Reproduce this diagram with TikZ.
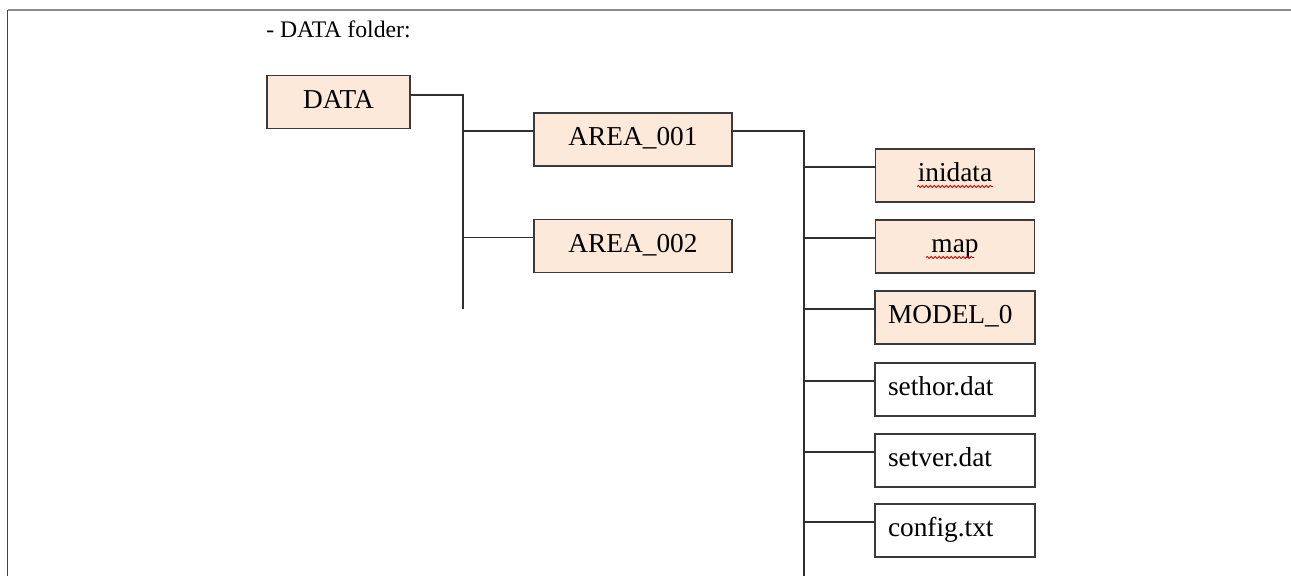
\documentclass[tikz,border=0pt]{standalone}
\usepackage{fontspec}
\setmainfont{Liberation Serif}
\usetikzlibrary{calc,decorations.pathmorphing}
\definecolor{peach}{HTML}{FDE9D9}
\definecolor{boxline}{HTML}{3A3A3A}
\definecolor{connline}{HTML}{303030}
\definecolor{frameleft}{HTML}{444444}
\definecolor{frametop}{HTML}{8A8A8A}
\begin{document}
\begin{tikzpicture}[x=0.75pt,y=-0.75pt,
  basebox/.style={draw=boxline, line width=1.1pt, rectangle, inner ysep=0pt,
    minimum height=39.75pt, text height=14pt, text depth=5pt,
    font=\fontsize{20.5}{24}\selectfont},
  folder/.style={basebox, fill=peach},
  filebox/.style={basebox, fill=white},
  centred/.style={align=center, text width=105pt, inner xsep=7pt},
  leftset/.style={align=left, text width=100.5pt, inner xsep=9.75pt},
  conn/.style={draw=connline, line width=0.8pt},
  squig/.style={draw=red!80!black, line width=0.6pt, decorate,
    decoration={snake, segment length=3pt, amplitude=0.8pt}}]
\useasboundingbox (0,0) rectangle (1291,576);
% frame
\draw[frametop, line width=1.5pt] (7.5,10) -- (1291,10);
\draw[frameleft, line width=1.3pt] (7.5,10) -- (7.5,576);
% title
\node[anchor=base west, inner sep=0pt, font=\fontsize{17.8}{21}\selectfont] (title) at (266,37) {- DATA folder:};
% level 0
\node[folder, minimum width=107.25pt, inner xsep=0pt] (data) at (338.5,102) {DATA};
% level 1
\node[folder, minimum width=148.5pt, inner xsep=0pt] (a1) at (633,139.5) {AREA\_001};
\node[folder, minimum width=148.5pt, inner xsep=0pt] (a2) at (633,246) {AREA\_002};
% level 2
\node[folder, centred] (ini) at (955,175.5) {inidata};
\node[folder, centred] (map) at (955,246.5) {map};
\node[folder, leftset] (model) at (955,317.5) {MODEL\_0};
\node[filebox, leftset] (sethor) at (955,389.5) {sethor.dat};
\node[filebox, leftset] (setver) at (955,460.5) {setver.dat};
\node[filebox, leftset] (config) at (955,530.5) {config.txt};
% trunks
\coordinate (t1bot) at (463,309);
\coordinate (t2bot) at (804,576);
\draw[conn] ($(data.east)+(0,-7)$) -| (t1bot);
\draw[conn] ($(a1.east)+(0,-8.5)$) -| (t2bot);
% branches
\foreach \n in {a1,a2}
  \draw[conn] ($(\n.west)+(0,-8.5)$) -- ++(-71,0);
\foreach \n in {ini,map,model,sethor,setver,config}
  \draw[conn] ($(\n.west)+(0,-8.5)$) -- ++(-71,0);
% spell-check squiggles
\draw[squig] ($(ini.center)+(-38,11)$) -- ++(76,0);
\draw[squig] ($(map.center)+(-29,11)$) -- ++(48,0);
\end{tikzpicture}
\end{document}
